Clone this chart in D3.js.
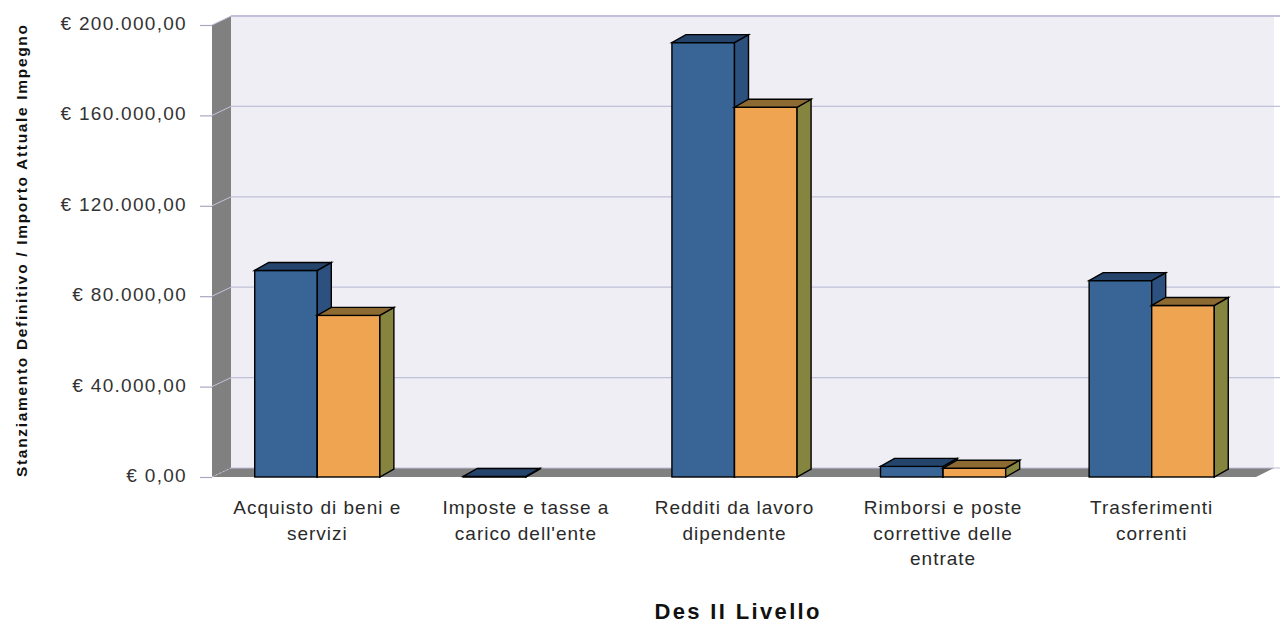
<!DOCTYPE html>
<html>
<head>
<meta charset="utf-8">
<script src="https://cdn.jsdelivr.net/npm/d3@7"></script>
<style>
  html, body { margin: 0; padding: 0; background: #fff; }
  svg { display: block; }
  text { font-family: "Liberation Sans", Arial, sans-serif; }
</style>
</head>
<body>
<svg id="chart" width="1281" height="623"></svg>
<script>
// ---- data ----
const categories = [
  "Acquisto di beni e servizi",
  "Imposte e tasse a carico dell'ente",
  "Redditi da lavoro dipendente",
  "Rimborsi e poste correttive delle entrate",
  "Trasferimenti correnti"
];
const stanziamentoDefinitivo = [91400, 250, 192200, 4700, 86900];
const importoAttualeImpegno = [71500, null, 163600, 3900, 75900];
const yTickValues = [0, 40000, 80000, 120000, 160000, 200000];
const seriesNames = ["Stanziamento Definitivo", "Importo Attuale Impegno"];
const xTitle = "Des II Livello";
const yTitle = "Stanziamento Definitivo / Importo Attuale Impegno";

// ---- layout ----
const svg = d3.select("#chart");
const plotL = 212, plotR = 1256, plotT = 25, plotB = 477, wallR = 1274;
const wallDx = 19, wallDy = -9;
const barDx = 14, barDy = -8;

const x = d3.scaleBand().domain(categories).range([plotL + 1, plotR]);
const y = d3.scaleLinear().domain([0, 200000]).range([plotB, plotT]);
const series = d3.scaleOrdinal().domain(seriesNames).range([0, 1]);

const colors = [
  { front: "#386496", top: "#24446c", side: "#2d517e" },
  { front: "#efa452", top: "#8d6a31", side: "#85853f" }
];

// back wall
svg.append("rect")
  .attr("x", plotL + wallDx).attr("y", y(200000) + wallDy)
  .attr("width", wallR - (plotL + wallDx))
  .attr("height", y(0) - y(200000))
  .attr("fill", "#eeeef4");

// left wall
svg.append("path")
  .attr("d", `M${plotL},${y(200000)} L${plotL + wallDx},${y(200000) + wallDy} L${plotL + wallDx},${y(0) + wallDy} L${plotL},${y(0)} Z`)
  .attr("fill", "#808080");

// floor
svg.append("path")
  .attr("d", `M${plotL},${y(0)} L${plotL + wallDx},${y(0) + wallDy} L${wallR},${y(0) + wallDy} L${plotR},${y(0)} Z`)
  .attr("fill", "#808080");

// gridlines on back wall + diagonal on side wall
const grid = svg.append("g");
yTickValues.forEach(v => {
  grid.append("line")
    .attr("x1", plotL + wallDx).attr("x2", 1280)
    .attr("y1", y(v) + wallDy).attr("y2", y(v) + wallDy)
    .attr("stroke", "#c0c0da").attr("stroke-width", v === 200000 ? 2 : 1.2);
  grid.append("line")
    .attr("x1", plotL).attr("x2", plotL + wallDx)
    .attr("y1", y(v)).attr("y2", y(v) + wallDy)
    .attr("stroke", "#c4c4dc").attr("stroke-width", 1)
    .attr("stroke-dasharray", v === 0 ? "2,2" : null);
});

// y axis
const loc = d3.formatLocale({ decimal: ",", thousands: ".", grouping: [3], currency: ["€ ", ""] });
const fmt = loc.format("$,.2f");
const yAxis = d3.axisLeft(y).tickValues(yTickValues).tickFormat(fmt).tickSize(12).tickPadding(13);
const gy = svg.append("g").attr("transform", `translate(${plotL},0)`).call(yAxis);
gy.select(".domain").remove();
gy.selectAll(".tick line").attr("stroke", "#a8a8c4").attr("stroke-width", 1.2);
gy.selectAll(".tick text")
  .attr("fill", "#333").attr("font-size", 19).attr("letter-spacing", 1.3)
  .attr("dy", "0.24em")
  .style("font-family", "'Liberation Sans', Arial, sans-serif");

// bars
const barW = x.bandwidth() * 0.3;
const barsG = svg.append("g");
categories.forEach((c, i) => {
  [stanziamentoDefinitivo[i], importoAttualeImpegno[i]].forEach((v, s) => {
    if (v === null || v === undefined) return;
    const col = colors[series(seriesNames[s])];
    const cx = x(c) + x.bandwidth() / 2;
    const x0 = cx - barW + s * barW, x1 = x0 + barW;
    const y0 = y(0), y1 = y(v);
    const g = barsG.append("g").attr("stroke", "#000").attr("stroke-width", 1.4).attr("stroke-linejoin", "miter");
    if (y0 - y1 > 0.5) {
      g.append("rect").attr("x", x0).attr("y", y1).attr("width", barW).attr("height", y0 - y1).attr("fill", col.front);
      g.append("path")
        .attr("d", `M${x1},${y1} L${x1 + barDx},${y1 + barDy} L${x1 + barDx},${y0 + barDy} L${x1},${y0} Z`)
        .attr("fill", col.side);
    }
    g.append("path")
      .attr("d", `M${x0},${y1} L${x0 + barDx},${y1 + barDy} L${x1 + barDx},${y1 + barDy} L${x1},${y1} Z`)
      .attr("fill", col.top);
  });
});

// category labels (wrapped)
const labG = svg.append("g");
const lineH = 25.5, maxW = 182;
categories.forEach(c => {
  const cxl = x(c) + x.bandwidth() / 2;
  const t = labG.append("text")
    .attr("x", cxl).attr("y", 514)
    .attr("text-anchor", "middle").attr("font-size", 19).attr("letter-spacing", 1)
    .attr("fill", "#2a2a2a");
  const words = c.split(" ");
  let line = [];
  let ts = t.append("tspan").attr("x", cxl).attr("dy", 0);
  words.forEach(w => {
    line.push(w);
    ts.text(line.join(" "));
    if (ts.node().getComputedTextLength() > maxW && line.length > 1) {
      line.pop();
      ts.text(line.join(" "));
      line = [w];
      ts = t.append("tspan").attr("x", cxl).attr("dy", lineH).text(w);
    }
  });
});

// axis titles
svg.append("text")
  .attr("x", 737).attr("y", 619)
  .attr("text-anchor", "middle").attr("font-weight", "bold").attr("font-size", 22)
  .attr("textLength", 165).attr("lengthAdjust", "spacing")
  .attr("fill", "#111").text(xTitle);

svg.append("text")
  .attr("transform", "translate(27,251) rotate(-90)")
  .attr("text-anchor", "middle").attr("font-weight", "bold").attr("font-size", 15.5)
  .attr("textLength", 452).attr("lengthAdjust", "spacing")
  .attr("fill", "#111").text(yTitle);
</script>
</body>
</html>
